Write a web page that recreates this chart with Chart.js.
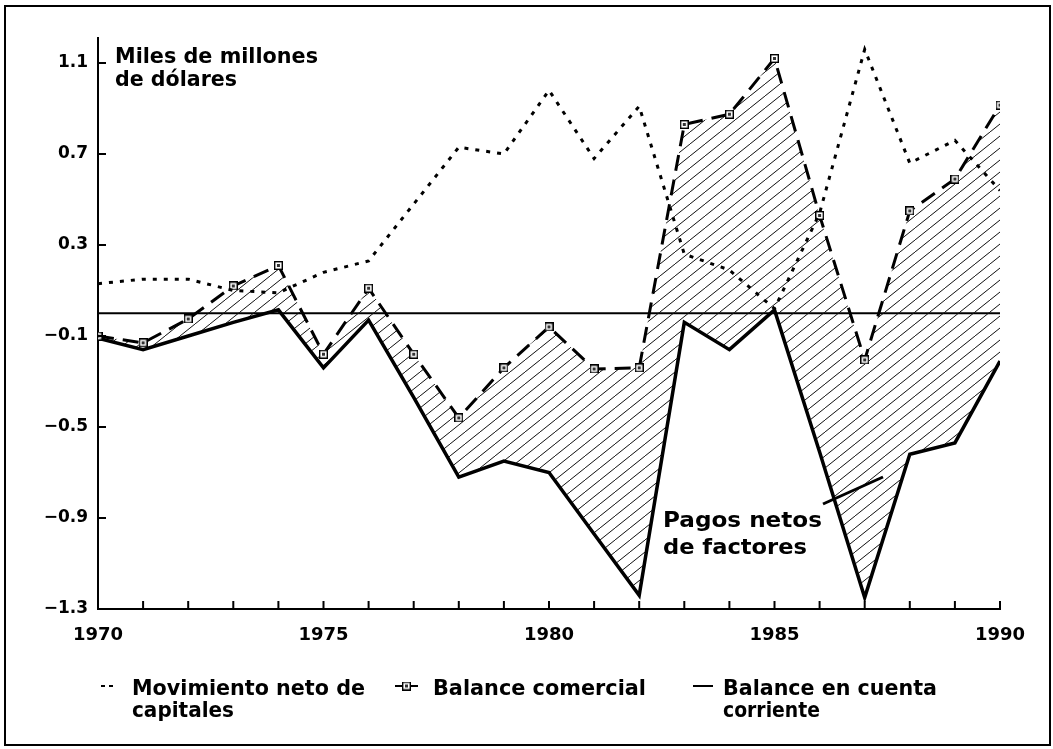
<!DOCTYPE html>
<html>
<head>
<meta charset="utf-8">
<title>Balance de pagos</title>
<script src="https://cdn.jsdelivr.net/npm/chart.js@4.4.1/dist/chart.umd.min.js"></script>
<style>
  html, body { margin: 0; padding: 0; background: #fff; }
  #wrap { width: 1053px; height: 749px; }
</style>
</head>
<body>
<div id="wrap"><canvas id="chart" width="1053" height="749"></canvas></div>
<script>
// Data (miles de millones de dólares)
const years = [1970, 1971, 1972, 1973, 1974, 1975, 1976, 1977, 1978, 1979, 1980,
               1981, 1982, 1983, 1984, 1985, 1986, 1987, 1988, 1989, 1990];
const capitales = [0.13, 0.15, 0.15, 0.10, 0.09, 0.18, 0.23, 0.48, 0.73, 0.70, 0.98,
                   0.68, 0.91, 0.26, 0.19, 0.02, 0.44, 1.16, 0.66, 0.76, 0.54];
const comercial = [-0.10, -0.13, -0.025, 0.12, 0.21, -0.18, 0.11, -0.18, -0.46, -0.24, -0.06,
                   -0.245, -0.24, 0.83, 0.875, 1.12, 0.43, -0.205, 0.45, 0.59, 0.915];
const corriente = [-0.11, -0.16, -0.10, -0.04, 0.015, -0.24, -0.03, -0.37, -0.72, -0.65, -0.70,
                   -0.97, -1.24, -0.04, -0.16, 0.015, -0.61, -1.25, -0.62, -0.57, -0.21];

// Axis ticks and texts
const yTicks = [-1.3, -0.9, -0.5, -0.1, 0.3, 0.7, 1.1];
const xLabelYears = [1970, 1975, 1980, 1985, 1990];
const axisTitle = ['Miles de millones', 'de dólares'];
const noteText = ['Pagos netos', 'de factores'];
const legendLabels = [
    ['Movimiento neto de', 'capitales'],
    ['Balance comercial'],
    ['Balance en cuenta', 'corriente']
];

const canvas = document.getElementById('chart');

// Diagonal hatch for the "pagos netos de factores" area
function makeHatch() {
    const w = 15, h = 12;
    const c = document.createElement('canvas');
    c.width = w; c.height = h;
    const g = c.getContext('2d');
    g.strokeStyle = '#111';
    g.lineWidth = 1;
    g.beginPath();
    g.moveTo(0, h); g.lineTo(w, 0);
    g.moveTo(-w, h); g.lineTo(0, 0);
    g.moveTo(w, h); g.lineTo(2 * w, 0);
    g.stroke();
    return canvas.getContext('2d').createPattern(c, 'repeat');
}

// Small square marker with a dot inside
function makeMarker() {
    const c = document.createElement('canvas');
    c.width = 9; c.height = 9;
    const g = c.getContext('2d');
    g.fillStyle = '#fff';
    g.fillRect(0, 0, 9, 9);
    g.strokeStyle = '#000';
    g.lineWidth = 1.4;
    g.strokeRect(0.7, 0.7, 7.6, 7.6);
    g.fillStyle = '#333';
    g.fillRect(3, 3, 3, 3);
    return c;
}
const marker = makeMarker();

const toPoints = arr => years.map((yr, i) => ({ x: yr, y: arr[i] }));

// Draw text squeezed/stretched to a given width
function fitText(ctx, text, x, y, width) {
    const m = ctx.measureText(text).width;
    ctx.save();
    ctx.translate(x, y);
    ctx.scale(width / m, 1);
    ctx.fillText(text, 0, 0);
    ctx.restore();
}

const fmt = v => (v < 0 ? '\u2212' : '') + Math.abs(v).toFixed(1);

const decorations = {
    id: 'decorations',
    beforeDatasetsDraw(chart) {
        const { ctx, chartArea, scales } = chart;
        const y0 = scales.y.getPixelForValue(0);
        ctx.save();
        ctx.strokeStyle = '#000';
        ctx.lineWidth = 2;
        ctx.beginPath();
        ctx.moveTo(chartArea.left, y0);
        ctx.lineTo(chartArea.right, y0);
        ctx.stroke();
        ctx.restore();
    },
    afterDraw(chart) {
        const { ctx, chartArea, scales } = chart;
        ctx.save();
        ctx.strokeStyle = '#000';
        ctx.fillStyle = '#000';

        // outer frame
        ctx.lineWidth = 2;
        ctx.strokeRect(5, 6, 1045, 739);

        // inward tick marks
        ctx.lineWidth = 2;
        ctx.beginPath();
        years.forEach(yr => {
            const px = scales.x.getPixelForValue(yr);
            ctx.moveTo(px, chartArea.bottom);
            ctx.lineTo(px, chartArea.bottom - 8);
        });
        yTicks.forEach(v => {
            const py = scales.y.getPixelForValue(v);
            ctx.moveTo(chartArea.left, py);
            ctx.lineTo(chartArea.left + 8, py);
        });
        ctx.stroke();

        // axis title inside the plot
        ctx.textBaseline = 'alphabetic';
        ctx.font = 'bold 21px "DejaVu Sans"';
        fitText(ctx, axisTitle[0], 115, 63, 203);
        fitText(ctx, axisTitle[1], 115, 86, 122);

        // annotation with leader line
        ctx.font = 'bold 22px "DejaVu Sans"';
        fitText(ctx, noteText[0], 663, 527, 159);
        fitText(ctx, noteText[1], 663, 554, 144);
        ctx.lineWidth = 3;
        ctx.beginPath();
        ctx.moveTo(823, 504);
        ctx.lineTo(883, 477);
        ctx.stroke();

        // legend
        const ly = 686;
        ctx.lineWidth = 2;
        ctx.setLineDash([4, 4]);
        ctx.beginPath();
        ctx.moveTo(101, ly); ctx.lineTo(114, ly);
        ctx.stroke();
        ctx.setLineDash([]);
        ctx.beginPath();
        ctx.moveTo(395, ly); ctx.lineTo(402, ly);
        ctx.moveTo(411, ly); ctx.lineTo(418, ly);
        ctx.moveTo(693, ly); ctx.lineTo(713, ly);
        ctx.stroke();
        ctx.drawImage(marker, 402, ly - 4.5);

        ctx.font = 'bold 21px "DejaVu Sans"';
        fitText(ctx, legendLabels[0][0], 132, 695, 233);
        fitText(ctx, legendLabels[0][1], 132, 717, 102);
        fitText(ctx, legendLabels[1][0], 433, 695, 213);
        fitText(ctx, legendLabels[2][0], 723, 695, 214);
        fitText(ctx, legendLabels[2][1], 723, 717, 97);
        ctx.restore();
    }
};

new Chart(canvas, {
    type: 'line',
    data: {
        datasets: [
            {
                label: legendLabels[0].join(' '),
                data: toPoints(capitales),
                borderColor: '#000',
                borderWidth: 3,
                borderDash: [4, 7],
                pointRadius: 0,
                fill: false,
                tension: 0
            },
            {
                label: legendLabels[1][0],
                data: toPoints(comercial),
                borderColor: '#000',
                borderWidth: 3,
                borderDash: [16, 9],
                pointStyle: marker,
                pointRadius: 4,
                fill: false,
                tension: 0
            },
            {
                label: legendLabels[2].join(' '),
                data: toPoints(corriente),
                borderColor: '#000',
                borderWidth: 3.5,
                borderJoinStyle: 'miter',
                pointRadius: 0,
                backgroundColor: makeHatch(),
                fill: '-1',
                tension: 0
            }
        ]
    },
    options: {
        responsive: false,
        animation: false,
        devicePixelRatio: 1,
        layout: { padding: { top: 38, right: 53, bottom: 0, left: 0 } },
        plugins: {
            legend: { display: false },
            tooltip: { enabled: false }
        },
        scales: {
            x: {
                type: 'linear',
                min: 1970,
                max: 1990,
                afterBuildTicks: scale => { scale.ticks = years.map(v => ({ value: v })); },
                afterFit: scale => { scale.height = 140; },
                grid: { display: false, drawTicks: false },
                border: { display: true, color: '#000', width: 2 },
                ticks: {
                    autoSkip: false,
                    maxRotation: 0,
                    padding: 16,
                    color: '#000',
                    font: { family: 'DejaVu Sans', size: 18, weight: 'bold' },
                    callback: v => xLabelYears.includes(v) ? String(v) : ''
                }
            },
            y: {
                type: 'linear',
                min: -1.3,
                max: 1.21,
                afterBuildTicks: scale => { scale.ticks = yTicks.map(v => ({ value: v })); },
                afterFit: scale => { scale.width = 98; },
                grid: { display: false, drawTicks: false },
                border: { display: true, color: '#000', width: 2 },
                ticks: {
                    padding: 10,
                    color: '#000',
                    font: { family: 'DejaVu Sans', size: 17, weight: 'bold' },
                    callback: v => fmt(v)
                }
            }
        }
    },
    plugins: [decorations]
});
</script>
</body>
</html>
